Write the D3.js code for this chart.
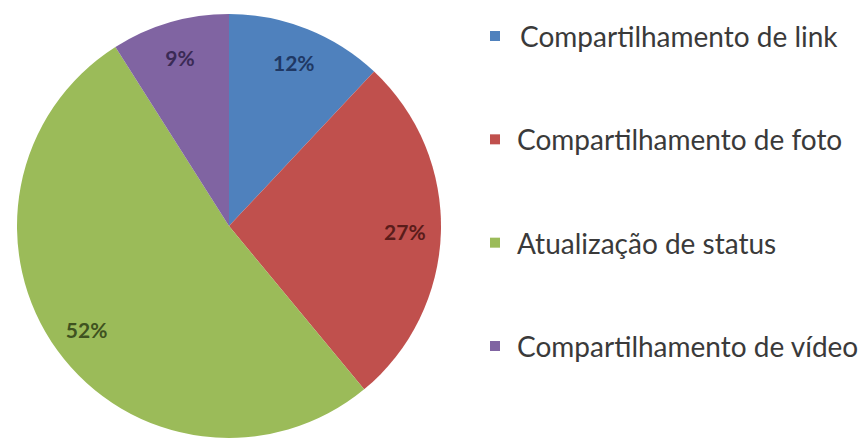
<!DOCTYPE html>
<html><head><meta charset="utf-8">
<script src="https://cdn.jsdelivr.net/npm/d3@7"></script>
<style>body{margin:0;background:#fff}svg{display:block}</style>
</head><body>
<svg id="c" width="860" height="439"></svg>
<script>
const categories = ["Compartilhamento de link","Compartilhamento de foto","Atualização de status","Compartilhamento de vídeo"];
const values = [12, 27, 52, 9];
const colors = ["#4f81bd","#c0504d","#9bbb59","#8064a2"];
const labelColors = ["#1f3864","#5a1c1a","#3f5220","#3a2a55"];

const svg = d3.select("#c");
const cx = 229, cy = 226, r = 212;
const pie = d3.pie().sort(null).value(d => d)(values);
const arc = d3.arc().innerRadius(0).outerRadius(r);
const g = svg.append("g").attr("transform", `translate(${cx},${cy})`);
g.selectAll("path").data(pie).join("path")
  .attr("d", arc).attr("fill", (d,i) => colors[i]);
const labelArc = d3.arc().innerRadius(r*0.83).outerRadius(r*0.83);
g.selectAll("text").data(pie).join("text")
  .attr("transform", d => `translate(${labelArc.centroid(d)})`)
  .attr("text-anchor","middle").attr("dominant-baseline","central")
  .attr("font-family","Lato, 'Open Sans', sans-serif").attr("font-size",21).attr("font-weight","bold")
  .attr("fill",(d,i)=>labelColors[i])
  .text(d => d.data + "%");

const y = d3.scalePoint().domain(categories).range([36, 346]);
const leg = svg.append("g");
const items = leg.selectAll("g").data(categories).join("g")
  .attr("transform", d => `translate(490,${y(d)})`);
items.append("rect").attr("x",0).attr("y",-5).attr("width",10).attr("height",10)
  .attr("fill",(d,i)=>colors[i]);
items.append("text").attr("x",(d,i)=> i===0 ? 30 : 27).attr("dominant-baseline","central")
  .attr("font-family","Lato, 'Open Sans', sans-serif").attr("font-size",28)
  .attr("fill","#3a3a3a").text(d => d);
</script>
</body></html>
